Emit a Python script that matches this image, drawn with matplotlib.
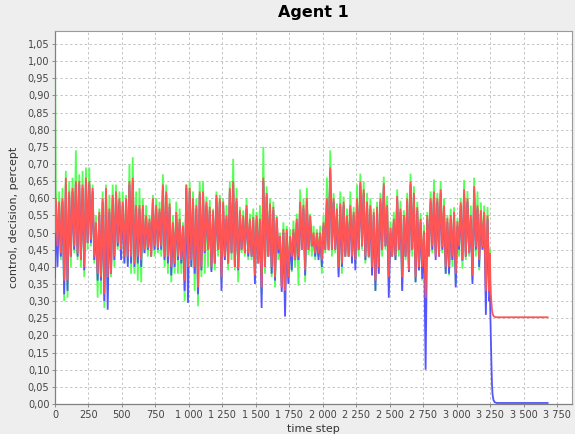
import numpy as np
import matplotlib
matplotlib.use("Agg")
import matplotlib.pyplot as plt
from matplotlib.ticker import FuncFormatter, MultipleLocator

# ---- data -------------------------------------------------------------
# noisy phase, one peak and one trough per 25-step window (k = 0..129)
window = 25
green_peaks = [.63, .62, .63, .68, .65, .66, .74, .67, .68, .69, .69, .64, .55, .57, .62, .64, .61, .64, .64, .62,
               .62, .61, .70, .72, .62, .63, .60, .58, .55, .61, .60, .59, .67, .64, .60, .55, .59, .57, .53, .64,
               .65, .62, .60, .65, .65, .605, .595, .57, .62, .61, .60, .58, .65, .715, .63, .575, .565, .60, .555, .57,
               .56, .58, .75, .635, .60, .59, .55, .50, .53, .52, .51, .535, .555, .626, .60, .63, .555, .52, .51, .52,
               .55, .66, .74, .615, .585, .62, .605, .57, .62, .575, .64, .672, .649, .616, .60, .57, .59, .616, .663, .607,
               .533, .56, .626, .593, .565, .616, .672, .635, .59, .557, .523, .56, .62, .655, .616, .649, .60, .551, .57, .574,
               .542, .60, .653, .621, .579, .66, .62, .588, .579, .575]
green_troughs = [.44, .42, .30, .31, .40, .44, .42, .40, .37, .45, .46, .41, .31, .32, .28, .33, .37, .40, .45, .43,
                 .41, .41, .38, .38, .36, .355, .44, .43, .43, .43, .44, .43, .40, .38, .355, .38, .38, .38, .30, .37,
                 .40, .33, .285, .37, .38, .40, .39, .39, .43, .36, .42, .39, .42, .39, .355, .44, .43, .42, .42, .37,
                 .42, .32, .38, .43, .37, .34, .42, .355, .36, .355, .385, .40, .345, .45, .355, .435, .43, .42, .43, .38,
                 .44, .45, .43, .44, .38, .38, .43, .43, .43, .41, .43, .45, .41, .425, .38, .33, .38, .43, .45, .35,
                 .43, .42, .43, .33, .42, .385, .43, .355, .39, .36, .34, .43, .44, .44, .435, .44, .38, .375, .40, .35,
                 .43, .395, .42, .43, .36, .43, .39, .45, .36, .363]
red_peaks = [.60, .59, .60, .66, .62, .63, .65, .65, .64, .66, .65, .63, .53, .56, .60, .63, .57, .61, .62, .60,
             .59, .60, .65, .66, .58, .58, .58, .55, .54, .60, .58, .57, .64, .62, .585, .53, .56, .54, .52, .64,
             .63, .60, .58, .62, .62, .59, .575, .565, .61, .60, .59, .55, .63, .65, .60, .565, .55, .58, .54, .545,
             .55, .54, .66, .615, .585, .575, .545, .49, .51, .51, .49, .51, .54, .59, .58, .60, .55, .50, .50, .50,
             .53, .60, .69, .60, .57, .585, .59, .55, .58, .56, .60, .649, .626, .59, .58, .56, .575, .60, .644, .58,
             .514, .54, .607, .57, .551, .60, .649, .616, .574, .54, .505, .551, .60, .62, .60, .626, .579, .542, .551, .56,
             .533, .588, .626, .60, .551, .635, .579, .565, .56, .55]
red_troughs = [.46, .44, .36, .36, .43, .46, .44, .42, .40, .47, .48, .43, .38, .37, .32, .37, .38, .43, .47, .45,
               .43, .43, .43, .41, .43, .42, .45, .455, .43, .46, .455, .46, .43, .43, .40, .41, .43, .42, .36, .40,
               .42, .40, .34, .40, .445, .45, .40, .41, .45, .37, .43, .41, .44, .40, .395, .45, .44, .44, .43, .375,
               .41, .34, .40, .43, .40, .37, .45, .34, .33, .37, .43, .42, .43, .45, .39, .45, .46, .44, .44, .42,
               .45, .45, .45, .45, .40, .41, .43, .43, .43, .42, .45, .46, .43, .43, .40, .36, .40, .45, .46, .37,
               .43, .43, .45, .37, .43, .39, .45, .37, .40, .40, .31, .43, .46, .43, .43, .458, .40, .40, .43, .38,
               .46, .42, .43, .44, .374, .458, .42, .458, .33, .33]
blue_peaks = [.59, .58, .59, .64, .61, .62, .64, .64, .63, .65, .64, .62, .52, .55, .59, .62, .56, .60, .61, .59,
              .58, .59, .64, .65, .57, .57, .57, .54, .53, .59, .57, .56, .63, .61, .575, .52, .55, .53, .51, .63,
              .62, .59, .57, .61, .61, .58, .565, .555, .60, .59, .58, .54, .62, .64, .59, .555, .54, .57, .53, .535,
              .54, .53, .65, .605, .575, .565, .535, .48, .50, .50, .48, .50, .53, .58, .57, .59, .54, .49, .49, .49,
              .52, .59, .68, .59, .56, .575, .58, .54, .57, .55, .59, .64, .615, .58, .57, .55, .565, .59, .635, .57,
              .50, .53, .60, .56, .54, .59, .64, .605, .565, .53, .50, .54, .59, .61, .59, .615, .57, .53, .54, .55,
              .52, .58, .615, .59, .54, .625, .57, .555, .55, .54]
blue_troughs = [.40, .43, .32, .33, .43, .45, .43, .42, .39, .47, .47, .42, .36, .36, .30, .275, .38, .42, .46, .42,
                .41, .40, .41, .40, .41, .40, .44, .45, .43, .45, .45, .45, .42, .41, .375, .40, .42, .41, .33, .295,
                .40, .38, .32, .39, .44, .45, .385, .41, .45, .33, .42, .41, .44, .40, .39, .45, .44, .43, .43, .35,
                .41, .28, .40, .43, .38, .36, .44, .327, .255, .35, .39, .42, .42, .45, .375, .45, .46, .43, .42, .40,
                .45, .45, .45, .45, .37, .40, .43, .43, .41, .39, .45, .46, .42, .43, .375, .33, .38, .45, .46, .31,
                .43, .42, .45, .33, .43, .385, .45, .355, .39, .365, .10, .45, .45, .42, .43, .45, .38, .38, .42, .34,
                .45, .418, .43, .44, .35, .45, .40, .45, .26, .30]

# opening values at step 0
start_green, start_red, start_blue = 1.035, 0.50, 0.37

# settling phase after the noisy run
tail_steps = [3249, 3252, 3256, 3260, 3264, 3268, 3275, 3285, 3300, 3680]
red_tail = [.44, .37, .32, .295, .275, .265, .257, .254, .253, .253]
blue_tail = [.316, .26, .19, .12, .06, .03, .012, .005, .003, .003]
green_last = (3250, 0.45)

# ---- build the series ------------------------------------------------
k = np.arange(len(green_peaks))
steps = np.empty(2 * len(k))
steps[0::2] = k * window + 6
steps[1::2] = k * window + 18.5


def interleave(peaks, troughs):
    out = np.empty(2 * len(peaks))
    out[0::2] = peaks
    out[1::2] = troughs
    return out


green_x = np.concatenate([[0], steps, [green_last[0]]])
green_y = np.concatenate([[start_green], interleave(green_peaks, green_troughs), [green_last[1]]])
red_x = np.concatenate([[0], steps, tail_steps])
red_y = np.concatenate([[start_red], interleave(red_peaks, red_troughs), red_tail])
blue_x = np.concatenate([[0], steps, tail_steps])
blue_y = np.concatenate([[start_blue], interleave(blue_peaks, blue_troughs), blue_tail])

# ---- figure ---------------------------------------------------------------
plt.rcParams["font.family"] = ["DejaVu Sans"]
W, H = 575, 434
fig = plt.figure(figsize=(W / 100, H / 100), dpi=100, facecolor="#EEEEEE")
ax = fig.add_axes([55 / W, (H - 404) / H, (572 - 55) / W, (404 - 31) / H])
ax.set_facecolor("white")

lw = 1.3
ax.plot(green_x, green_y, color="#55FF55", lw=lw, zorder=2, solid_joinstyle="miter")
ax.plot(blue_x, blue_y, color="#5555FF", lw=lw, zorder=3, solid_joinstyle="miter")
ax.plot(red_x, red_y, color="#FF5555", lw=lw, zorder=4, solid_joinstyle="miter")

ax.set_xlim(0, 3862)
ax.set_ylim(0, 1.088)
ax.xaxis.set_major_locator(MultipleLocator(250))
ax.set_yticks(np.arange(0, 1.0501, 0.05))
ax.xaxis.set_major_formatter(FuncFormatter(lambda v, p: f"{int(round(v)):,}".replace(",", " ")))
ax.yaxis.set_major_formatter(FuncFormatter(lambda v, p: f"{v:.2f}".replace(".", ",")))

ax.grid(True, color="#C4C4C4", lw=0.7, linestyle=(0, (2.5, 2.5)), zorder=1)
for side in ("top", "right"):
    ax.spines[side].set_color("#9A9A9A")
    ax.spines[side].set_linewidth(0.8)
for side in ("left", "bottom"):
    ax.spines[side].set_color("#808080")
    ax.spines[side].set_linewidth(0.9)

ax.tick_params(axis="both", direction="out", length=2, width=0.6, color="#808080",
               labelsize=7, labelcolor="#444444", pad=2)

ax.set_xlabel("time step", fontsize=8, color="#333333", labelpad=3)
ax.set_ylabel("control, decision, percept", fontsize=8, color="#333333", labelpad=6)
ax.set_title("Agent 1", fontsize=11.5, fontweight="bold", color="black", pad=10)

fig.savefig("out.png", dpi=100, facecolor=fig.get_facecolor())
